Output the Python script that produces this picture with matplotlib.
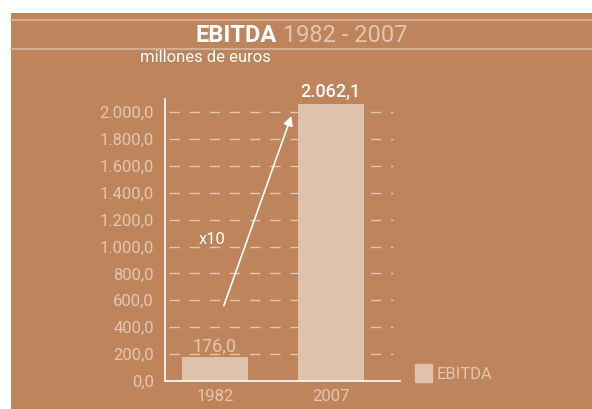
import matplotlib.pyplot as plt
from matplotlib.patches import Patch

years = ["1982", "2007"]
ebitda = [176.0, 2062.1]
value_labels = ["176,0", "2.062,1"]
yticks = list(range(0, 2001, 200))
ytick_labels = [f"{v:,.1f}".replace(",", "X").replace(".", ",").replace("X", ".") for v in yticks]

BG = "#BE845C"
BAR = "#DFC2AB"
PALE = "#E2C6B0"
W, H = 592, 409

plt.rcParams["font.family"] = ["Roboto", "DejaVu Sans"]

fig = plt.figure(figsize=(W / 100, H / 100), dpi=100)
fig.patch.set_facecolor("white")
# brown panel
fig.patches.append(plt.Rectangle((11 / W, 0), 1, 1 - 13 / H, transform=fig.transFigure,
                                 facecolor=BG, edgecolor="none", zorder=-5))
for y in (20, 49):
    fig.add_artist(plt.Line2D([11 / W, 1], [1 - y / H] * 2, color="#D9B59C", lw=1.2, zorder=-4))

fig.text(277 / W, 1 - 36 / H, "EBITDA", color="white", fontsize=17, fontweight="bold",
         ha="right", va="center")
fig.text(277 / W, 1 - 36 / H, " 1982 - 2007", color=PALE, fontsize=17, ha="left", va="center")
fig.text(140 / W, 1 - 57 / H, "millones de euros", color="white", fontsize=12, ha="left", va="center")

ax = fig.add_axes([165 / W, 1 - 381 / H, (400 - 165) / W, (381 - 112) / H * 2300 / 2000])
ax.set_zorder(1)
ax.set_facecolor("none")
x = [0, 1]
ax.bar(x, ebitda, width=0.57, color=BAR, zorder=1)
ax.set_xlim(-0.43, 1.6)
ax.set_ylim(0, 2300)
ax.set_yticks(yticks)
ax.set_yticklabels(ytick_labels)
ax.set_xticks(x)
ax.set_xticklabels(years)
for v in yticks[1:]:
    ax.axhline(v, xmin=0.015, xmax=0.97, color=PALE, lw=1, dashes=(7.5, 7), zorder=0.5)
ax.tick_params(axis="y", length=0, colors=PALE, labelsize=12, pad=8)
ax.tick_params(axis="x", length=0, colors=PALE, labelsize=12, pad=6)
for s in ("top", "right"):
    ax.spines[s].set_visible(False)
ax.spines["left"].set_color("white")
ax.spines["bottom"].set_color("white")
ax.spines["left"].set_bounds(0, 2100)
ax.spines["left"].set_linewidth(1.2)
ax.spines["bottom"].set_linewidth(1.2)

ax.text(x[0], 260, value_labels[0], color=PALE, fontsize=13, ha="center", va="center")
ax.text(x[1], ebitda[1] + 90, value_labels[1], color="white", fontsize=13, ha="center",
        va="center", fontweight="medium")
ax.annotate("", xy=(0.67, 1990), xytext=(0.07, 540),
            arrowprops=dict(arrowstyle="-|>", color="white", lw=1.2, mutation_scale=14))
ax.text(-0.02, 1050, "x10", color="white", fontsize=12, ha="center", va="center")

fig.legend(handles=[Patch(color=BAR, label="EBITDA")], loc="center left",
           bbox_to_anchor=(400 / W, 1 - 373 / H), frameon=False, fontsize=12,
           labelcolor=PALE, handlelength=1.0, handleheight=1.3, handletextpad=0.3)

fig.savefig("out.png", dpi=100, facecolor=fig.get_facecolor())
